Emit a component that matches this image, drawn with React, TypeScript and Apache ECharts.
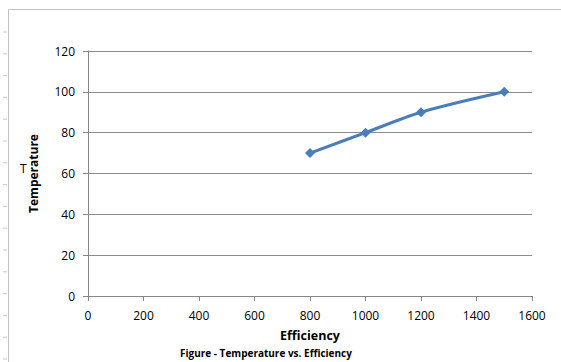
import React, { useEffect, useRef } from "react";
import * as echarts from "echarts";

const efficiency = [800, 1000, 1200, 1500];
const temperature = [70, 80, 90, 100];
const xTitle = "Efficiency";
const yTitle = "Temperature";
const caption = "Figure - Temperature vs. Efficiency";

export default function App() {
  const ref = useRef<HTMLDivElement>(null);
  useEffect(() => {
    if (!ref.current) return;
    const chart = echarts.init(ref.current, null, { renderer: "svg" });
    const font = "'Open Sans', 'Noto Sans', sans-serif";
    const ruler: any[] = [];
    for (let y = 32; y < 362; y += 21.8) {
      ruler.push({
        type: "line",
        shape: { x1: 3, y1: y, x2: 7, y2: y },
        style: { stroke: "#c8c8c8", lineWidth: 1 },
        silent: true,
      });
    }
    chart.setOption({
      animation: false,
      backgroundColor: "#ffffff",
      grid: { left: 88, right: 29, top: 51, bottom: 66, containLabel: false },
      xAxis: {
        type: "value",
        min: 0,
        max: 1600,
        interval: 200,
        name: xTitle,
        nameLocation: "middle",
        nameGap: 32,
        nameTextStyle: {
          fontFamily: font,
          fontWeight: "bold",
          fontSize: 12.5,
          color: "#000",
          lineHeight: 14,
        },
        axisLine: { show: true, lineStyle: { color: "#868686", width: 1 } },
        axisTick: { show: true, length: 5, lineStyle: { color: "#868686" } },
        axisLabel: {
          fontFamily: font,
          fontSize: 12,
          color: "#000",
          margin: 13,
          formatter: (v: number) => String(v),
        },
        splitLine: { show: false },
      },
      yAxis: {
        type: "value",
        min: 0,
        max: 120,
        interval: 20,
        name: yTitle,
        nameLocation: "middle",
        nameGap: 49,
        nameRotate: 90,
        nameTextStyle: { fontFamily: font, fontWeight: "bold", fontSize: 12, color: "#000" },
        axisLine: { show: true, lineStyle: { color: "#868686", width: 1 } },
        axisTick: { show: true, length: 5, lineStyle: { color: "#868686" } },
        axisLabel: {
          fontFamily: font,
          fontSize: 12,
          color: "#000",
          margin: 13,
          formatter: (v: number) => String(v),
        },
        splitLine: { show: true, lineStyle: { color: "#8c8c8c", width: 1 } },
      },
      graphic: [
        {
          type: "line",
          shape: { x1: 8.5, y1: 9.5, x2: 561, y2: 9.5 },
          style: { stroke: "#c0c0c0", lineWidth: 1 },
          silent: true,
        },
        {
          type: "line",
          shape: { x1: 8.5, y1: 9.5, x2: 8.5, y2: 362 },
          style: { stroke: "#c0c0c0", lineWidth: 1 },
          silent: true,
        },
        ...ruler,
        {
          type: "text",
          left: 20,
          top: 162,
          style: { text: "T", fontFamily: font, fontSize: 12, fill: "#000" },
        },
        {
          type: "text",
          left: 180,
          top: 348,
          style: {
            text: caption,
            fontFamily: font,
            fontWeight: "bold",
            fontSize: 10,
            fill: "#000",
          },
        },
      ],
      series: [
        {
          type: "line",
          data: efficiency.map((x, i) => [x, temperature[i]]),
          smooth: 0.3,
          symbol: "diamond",
          symbolSize: 10,
          lineStyle: { color: "#4a7ebb", width: 3 },
          itemStyle: { color: "#4a7ebb" },
        },
      ],
    });
    return () => chart.dispose();
  }, []);
  return (
    <div
      ref={ref}
      style={{ position: "fixed", left: 0, top: 0, width: 561, height: 362 }}
    />
  );
}
